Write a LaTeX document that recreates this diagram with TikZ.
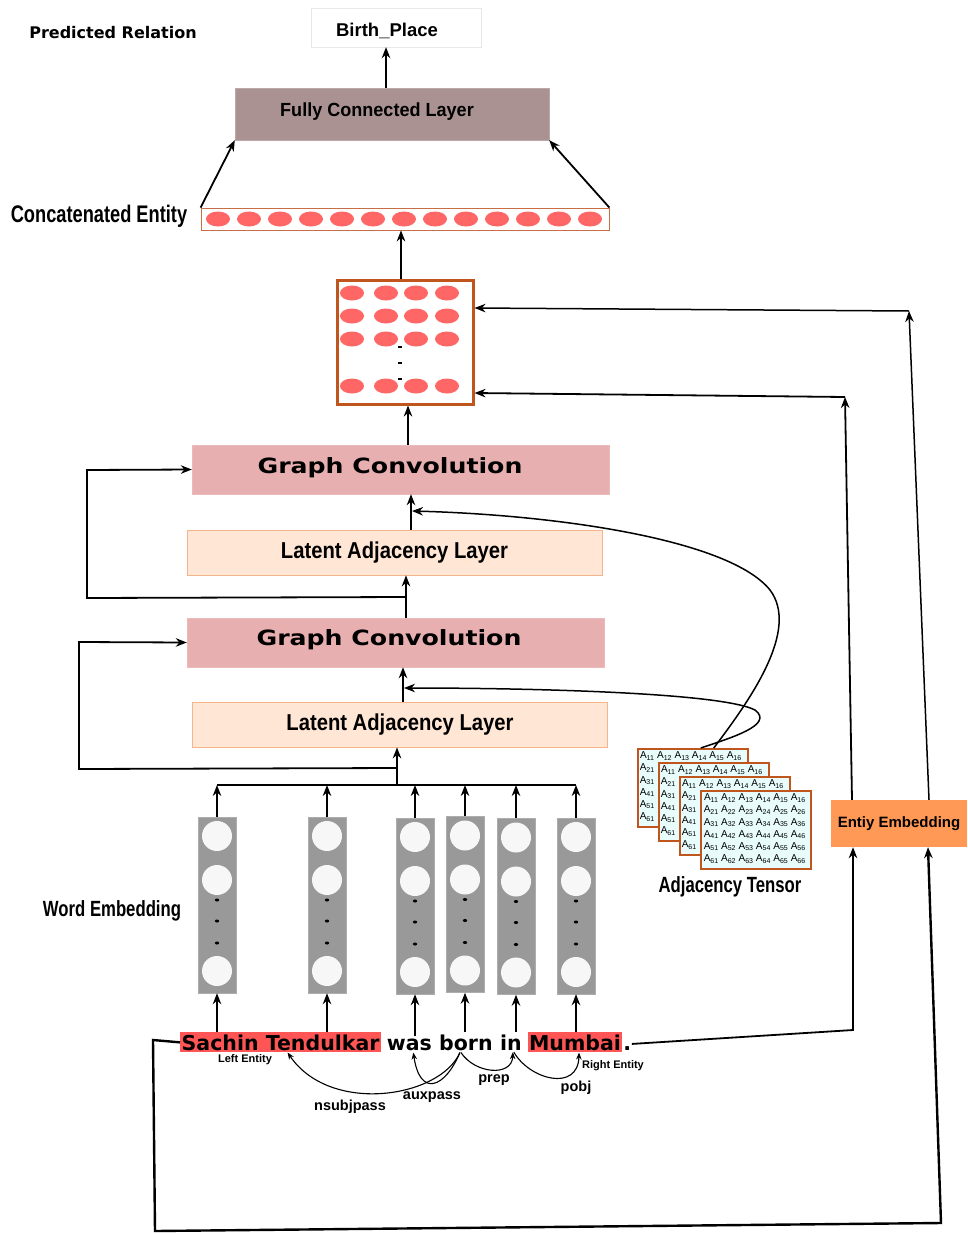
\documentclass[tikz,border=0pt]{standalone}
\usepackage{fontspec}
\setmainfont{Liberation Sans}
\newfontfamily\lbf[UprightFont={* Bold}]{Liberation Sans}
\newfontfamily\dvbf[UprightFont={* Bold}]{DejaVu Sans}
\newfontfamily\widebf[UprightFont={* Bold},FakeStretch=1.2]{DejaVu Sans}
\newfontfamily\narrowbf[UprightFont={* Bold},FakeStretch=0.76]{Liberation Sans}
\newfontfamily\midbf[UprightFont={* Bold},FakeStretch=0.88]{Liberation Sans}
\newfontfamily\fcbf[UprightFont={* Bold},FakeStretch=0.95]{Liberation Sans}
\usetikzlibrary{arrows.meta}
\newcommand\setfs[1]{\fontsize{#1}{#1}\selectfont}
\newcommand\Aent[1]{A\raisebox{-1.5pt}{\setfs{7}#1}}
\definecolor{fcfill}{RGB}{170,146,146}
\definecolor{gcfill}{RGB}{232,175,176}
\definecolor{lafill}{RGB}{255,230,213}
\definecolor{laline}{RGB}{244,180,140}
\definecolor{entred}{RGB}{255,102,102}
\definecolor{mxline}{RGB}{192,86,30}
\definecolor{barline}{RGB}{200,110,70}
\definecolor{tfill}{RGB}{232,252,252}
\definecolor{eefill}{RGB}{255,153,85}
\definecolor{colgray}{RGB}{153,153,153}
\definecolor{hlred}{RGB}{255,85,85}
\definecolor{bpline}{RGB}{232,232,232}
\begin{document}
\begin{tikzpicture}[x=1pt,y=-1pt,
  arr/.style={line width=1.8pt,-{Stealth[length=11pt,width=8.5pt]}},
  ln/.style={line width=1.8pt},
  thinarr/.style={line width=1.1pt,-{Stealth[length=7pt,width=5.5pt]}},
  gc/.style={fill=gcfill, draw=gcfill!85!white, minimum width=417pt, minimum height=49pt},
  gctext/.style={font=\widebf\setfs{21}, inner sep=0},
  la/.style={fill=lafill, draw=laline, line width=0.8pt, minimum width=415pt, minimum height=45pt, font=\midbf\setfs{23}},
  colbox/.style={fill=colgray, draw=colgray!80!white, minimum width=38pt, minimum height=176pt, inner sep=0},
  tmat/.style={fill=tfill, draw=mxline, line width=1.5pt, minimum width=110pt, minimum height=78pt, inner sep=0},
  tent/.style={font=\setfs{10}, inner sep=0},
  word/.style={anchor=base west, font=\dvbf\setfs{20.5}, inner xsep=1.5pt, inner ysep=2pt},
  deplab/.style={font=\lbf\setfs{14.5}, inner sep=1pt},
  biglab/.style={font=\narrowbf\setfs{24}}
]
\useasboundingbox (0,0) rectangle (967,1234);

% ---------- output part ----------
\node[font=\dvbf\setfs{16}] (pr) at (113,33) {Predicted Relation};
\node[draw=bpline, minimum width=170pt, minimum height=39pt] (bp) at (396,27.5) {};
\node[font=\lbf\setfs{18.5}, inner sep=0] (bpt) at (387,31) {Birth\_Place};
\node[fill=fcfill, draw=fcfill!80!white, minimum width=314pt, minimum height=52pt] (fc) at (392,114) {};
\node[font=\fcbf\setfs{19}, inner sep=0] (fct) at (377,112) {Fully Connected Layer};
\draw[arr] ([xshift=-6pt]fc.north) -- ([xshift=-6pt]fc.north |- bp.south);

% concatenated entity vector
\node[draw=barline, line width=0.8pt, minimum width=408pt, minimum height=22pt, inner sep=0] (cb) at (405,219) {};
\foreach \i in {0,...,12} \fill[entred] ({218+31*\i},219) ellipse (12pt and 7.5pt);
\node[biglab] (ce) at (99,216) {Concatenated Entity};
\draw[arr] (cb.north west) -- (fc.south west);
\draw[arr] (cb.north east) -- (fc.south east);

% entity matrix
\node[draw=mxline, line width=3pt, minimum width=136pt, minimum height=124pt, fill=white] (mx) at (405,342) {};
\foreach \r in {293,316,339,386}
  \foreach \c in {352,386,416,447}
    \fill[entred] (\c,\r) ellipse (12pt and 7.5pt);
\foreach \d in {346,362,378} \fill (398,\d) rectangle (402,{\d+2});
\draw[arr] ([xshift=-4pt]mx.north) -- ([xshift=-4pt]mx.north |- cb.south);

% ---------- graph convolution stack ----------
\node[gc] (gc2) at (400.5,469.5) {};
\node[gctext] (gc2t) at (390,468) {Graph Convolution};
\node[la] (la2) at (394.5,552.5) {Latent Adjacency Layer};
\node[gc] (gc1) at (395.5,642.5) {};
\node[gctext] (gc1t) at (389,640) {Graph Convolution};
\node[la] (la1) at (400,724.5) {Latent Adjacency Layer};

\draw[arr] ([xshift=7.5pt]gc2.north) -- ([xshift=7.5pt]gc2.north |- mx.south);
\draw[arr] ([xshift=16.5pt]la2.north) -- ([xshift=16.5pt]la2.north |- gc2.south);
\draw[arr] ([xshift=10.5pt]gc1.north) -- ([xshift=10.5pt]gc1.north |- la2.south);
\coordinate (j2) at (406,597);
\draw[arr] (j2) -- (87,598) -- (87,470) -- (gc2.west);
\draw[arr] ([xshift=3pt]la1.north) -- ([xshift=3pt]la1.north |- gc1.south);
\coordinate (bus) at (397,785);
\draw[arr] (bus) -- (bus |- la1.south);
\coordinate (j1) at (397,768);
\draw[arr] (j1) -- (79,769) -- (79,642) -- (gc1.west);

% ---------- word embeddings ----------
\foreach \n/\cx/\cy in {1/217/905, 2/327/905, 3/415/906, 4/465/904.5, 5/516/906.5, 6/576/906}{
  \node[colbox] (col\n) at (\cx,\cy) {};
  \fill[white!97!black] (\cx,{\cy-69}) circle (15pt);
  \fill[white!97!black] (\cx,{\cy-25}) circle (15pt);
  \fill[white!97!black] (\cx,{\cy+66}) circle (15pt);
  \foreach \d in {-5,16,38} \fill (\cx,{\cy+\d}) ellipse (2.2pt and 1.5pt);
  \draw[arr] (col\n.north) -- (col\n.north |- bus);
}
\draw[ln] (col1.north |- bus) -- (col6.north |- bus);
\node[font=\narrowbf\setfs{22}] (we) at (112,911) {Word Embedding};

% ---------- adjacency tensor ----------
% back slices show only their first row and first column
\foreach \k in {0,1,2}{
  \pgfmathsetmacro\xo{637+21*\k}
  \pgfmathsetmacro\yo{748+14*\k}
  \node[tmat, anchor=north west] (t\k) at (\xo,\yo) {};
  \foreach \j in {1,...,6}
    \node[tent] (t\k-1-\j) at ({\xo+10+17.4*(\j-1)},{\yo+8}) {\Aent{1\j}};
  \foreach \i in {2,...,6}
    \node[tent] (t\k-\i-1) at ({\xo+10},{\yo+8+12.2*(\i-1)}) {\Aent{\i1}};
}
\node[tmat, anchor=north west] (t3) at (700,790) {};
\foreach \i in {1,...,6}
  \foreach \j in {1,...,6}
    \node[tent] (t3-\i-\j) at ({711+17.4*(\j-1)},{798+12.2*(\i-1)}) {\Aent{\i\j}};
\node[font=\narrowbf\setfs{22}] (at) at (730,887) {Adjacency Tensor};

\coordinate (m1) at (404,688);
\coordinate (m2) at (412,511);
\draw[arr, line width=1.5pt] ([xshift=8pt]t0.north) .. controls (730,738) and (775,725) .. (755,710) .. controls (720,692) and (520,688) .. (m1);
\draw[arr, line width=1.5pt] ([xshift=21pt]t0.north) .. controls (750,700) and (800,630) .. (770,590) .. controls (730,540) and (560,515) .. (m2);

% ---------- entity embedding ----------
\node[fill=eefill, minimum width=136pt, minimum height=47pt, font=\lbf\setfs{15}] (ee) at (899,823.5) {Entiy Embedding};
\coordinate (c1) at (845,397);
\coordinate (c2) at (909,311);
\draw[arr] ([xshift=-47pt]ee.north) -- (c1);
\draw[arr] (c1) -- ([yshift=-51pt]mx.east);
\draw[arr, line width=1.5pt] ([xshift=30pt]ee.north) -- (c2);
\draw[arr, line width=1.5pt] (c2) -- ([yshift=34pt]mx.east);

% ---------- sentence ----------
\node[word, fill=hlred] (st) at (180,1050) {Sachin Tendulkar};
\node[word] (was) at ([xshift=4pt]st.base east) {was};
\node[word] (born) at ([xshift=4pt]was.base east) {born};
\node[word] (in) at ([xshift=4pt]born.base east) {in};
\node[word, fill=hlred] (mum) at ([xshift=4pt]in.base east) {Mumbai};
\node[word, inner xsep=0.5pt] (dot) at (mum.base east) {.};

\draw[arr] (col1.south |- st.north) -- (col1.south);
\draw[arr] (col2.south |- st.north) -- (col2.south);
\draw[arr] (col3.south |- was.north) -- (col3.south);
\draw[arr] (col4.south |- born.north) -- (col4.south);
\draw[arr] (col5.south |- in.north) -- (col5.south);
\draw[arr] (col6.south |- mum.north) -- (col6.south);

\node[font=\lbf\setfs{11}] (le) at (245,1060) {Left Entity};
\node[font=\lbf\setfs{11}] (re) at (613,1066) {Right Entity};

% dependency arcs
\draw[thinarr] ([xshift=-6pt]born.south) .. controls (440,1098) and (330,1115) .. ([xshift=7pt]st.south);
\draw[thinarr] ([xshift=-6pt]born.south) .. controls (445,1088) and (420,1098) .. ([xshift=4pt]was.south);
\draw[thinarr] ([xshift=-5pt]born.south) .. controls (475,1074) and (512,1077) .. ([xshift=2pt]in.south);
\draw[thinarr] ([xshift=3pt]in.south) .. controls (530,1080) and (578,1092) .. ([xshift=4pt]mum.south);
\node[deplab] (l1) at (350,1107) {nsubjpass};
\node[deplab] (l2) at (432,1097) {auxpass};
\node[deplab] (l3) at (494,1080) {prep};
\node[deplab] (l4) at (576,1088) {pobj};

% entity routes to the embedding box
\coordinate (r1) at (853,1030);
\draw[arr] (dot.north east) -- (r1) -- (r1 |- ee.south);
\coordinate (b1) at (153,1040);
\coordinate (b2) at (155,1231);
\coordinate (b3) at (941,1223);
\draw[arr, line width=2.4pt] (st.west) -- (b1) -- (b2) -- (b3) -- ([xshift=29pt]ee.south);
\end{tikzpicture}
\end{document}
